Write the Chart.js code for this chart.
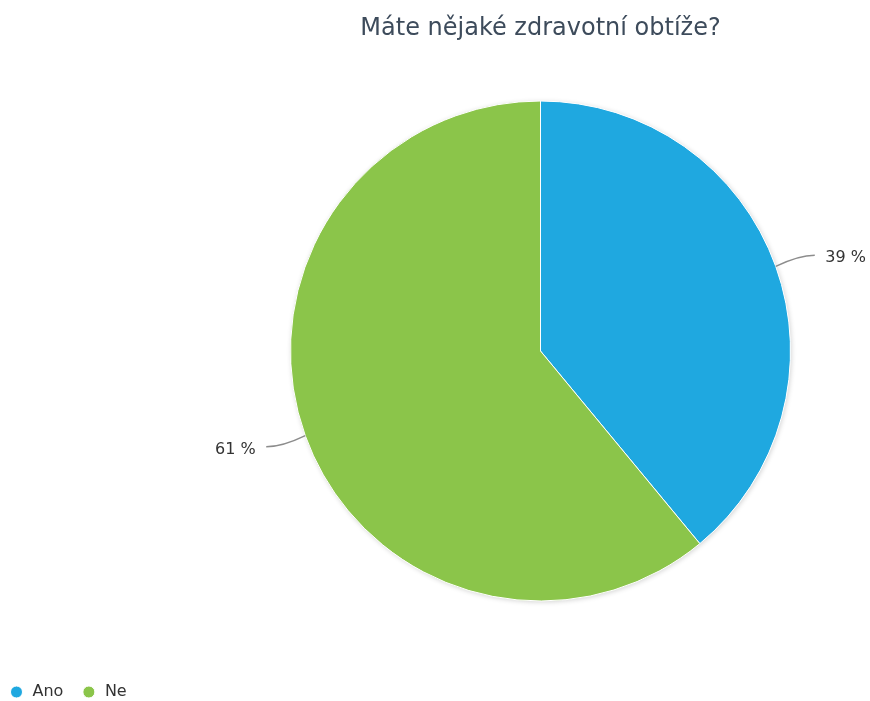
<!DOCTYPE html>
<html lang="cs">
<head>
<meta charset="UTF-8">
<title>Máte nějaké zdravotní obtíže?</title>
<script src="https://cdn.jsdelivr.net/npm/chart.js@4.4.1/dist/chart.umd.min.js"></script>
<style>
  body { margin: 0; background: #fff; }
</style>
</head>
<body>
<canvas id="chartZdravi" width="870" height="701"></canvas>
<script>
  const nadpis = 'Máte nějaké zdravotní obtíže?';
  const odpovedi = ['Ano', 'Ne'];
  const procenta = [39, 61];
  const barvy = ['#1fa8e0', '#8bc54a'];

  const LEVY_OKRAJ = 220;

  Chart.defaults.font.family = "'DejaVu Sans', sans-serif";
  Chart.defaults.color = '#333';

  // prázdný box vlevo - koláč a nadpis jsou posunuté doprava, legenda zůstává u kraje
  const levyOkraj = {
    id: 'levyOkraj',
    beforeInit(chart) {
      Chart.layouts.addBox(chart, {
        position: 'left',
        weight: 0,
        fullSize: false,
        options: {},
        isHorizontal() { return false; },
        update(maxWidth, maxHeight) {
          this.width = LEVY_OKRAJ;
          this.height = maxHeight;
        },
        draw() {}
      });
    }
  };

  // stín pod koláčem + popisky s procenty a spojovacími čarami
  const popisky = {
    id: 'popisky',
    beforeDatasetsDraw(chart) {
      const arc = chart.getDatasetMeta(0).data[0];
      const {x, y, outerRadius} = arc.getProps(['x', 'y', 'outerRadius'], true);
      const ctx = chart.ctx;
      ctx.save();
      ctx.shadowColor = 'rgba(0, 0, 0, 0.18)';
      ctx.shadowBlur = 5;
      ctx.shadowOffsetX = 1;
      ctx.shadowOffsetY = 1;
      ctx.fillStyle = '#fff';
      ctx.beginPath();
      ctx.arc(x, y, outerRadius, 0, Math.PI * 2);
      ctx.fill();
      ctx.restore();
    },
    afterDatasetsDraw(chart) {
      const ctx = chart.ctx;
      const hodnoty = chart.data.datasets[0].data;
      ctx.save();
      ctx.font = "16px 'DejaVu Sans', sans-serif";
      ctx.textBaseline = 'middle';
      chart.getDatasetMeta(0).data.forEach((arc, i) => {
        const {x, y, startAngle, endAngle, outerRadius} =
          arc.getProps(['x', 'y', 'startAngle', 'endAngle', 'outerRadius'], true);
        const uhel = (startAngle + endAngle) / 2;
        const cos = Math.cos(uhel), sin = Math.sin(uhel);
        const strana = cos >= 0 ? 1 : -1;
        const dist = outerRadius + 33;
        const x0 = x + cos * outerRadius, y0 = y + sin * outerRadius;
        const x1 = x + cos * dist + strana * 8, y1 = y + sin * dist;

        ctx.strokeStyle = '#8c8c8c';
        ctx.lineWidth = 1.5;
        ctx.beginPath();
        ctx.moveTo(x0, y0);
        ctx.quadraticCurveTo(x1 - strana * 16, y1, x1, y1);
        ctx.stroke();

        ctx.fillStyle = '#333';
        ctx.textAlign = strana > 0 ? 'left' : 'right';
        ctx.fillText(hodnoty[i] + ' %', x1 + strana * 10.5, y1 + 2.8);
      });
      ctx.restore();
    }
  };

  new Chart(document.getElementById('chartZdravi'), {
    type: 'pie',
    data: {
      labels: odpovedi,
      datasets: [{
        data: procenta,
        backgroundColor: barvy,
        borderColor: '#fff',
        borderWidth: 1,
        hoverOffset: 0,
        radius: 250
      }]
    },
    options: {
      responsive: false,
      animation: false,
      layout: {
        padding: { top: 0, right: 0, bottom: -9, left: -9 }
      },
      plugins: {
        title: {
          display: true,
          text: nadpis,
          fullSize: false,
          color: '#3d4b5b',
          font: { size: 24, weight: 'normal', lineHeight: 0.6 },
          padding: { top: 21.1, bottom: 0 }
        },
        legend: {
          position: 'bottom',
          align: 'start',
          labels: {
            usePointStyle: true,
            pointStyle: 'circle',
            boxWidth: 16,
            boxHeight: 8.5,
            padding: 17.5,
            color: '#333',
            font: { size: 16 }
          }
        },
        tooltip: { enabled: false }
      }
    },
    plugins: [levyOkraj, popisky]
  });
</script>
</body>
</html>
